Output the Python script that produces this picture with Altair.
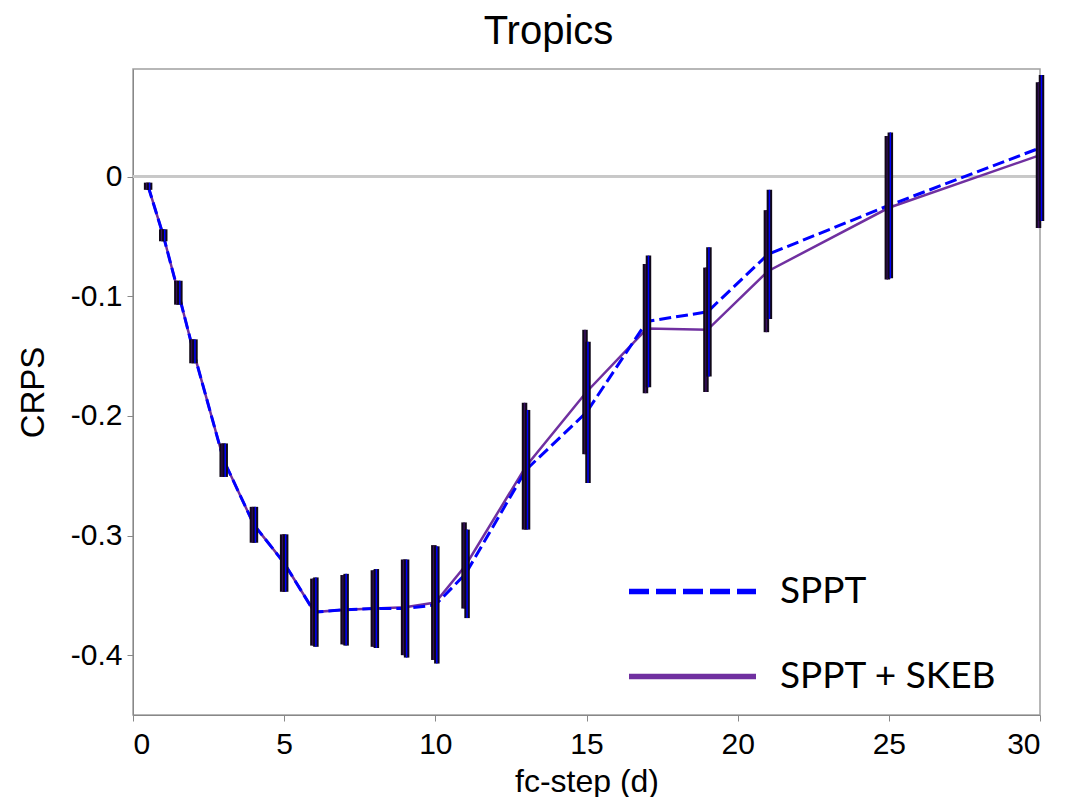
import altair as alt
import pandas as pd

# ---- data ----
steps = [0.5, 1, 1.5, 2, 3, 4, 5, 6, 7, 8, 9, 10, 11, 13, 15, 17, 19, 21, 25, 30]
sppt = [-0.008, -0.049, -0.097, -0.146, -0.237, -0.291, -0.323, -0.364, -0.362, -0.361,
        -0.361, -0.358, -0.332, -0.245, -0.197, -0.121, -0.113, -0.065, -0.024, 0.024]
skeb = [-0.008, -0.049, -0.097, -0.146, -0.237, -0.291, -0.323, -0.364, -0.362, -0.361,
        -0.360, -0.356, -0.325, -0.242, -0.180, -0.127, -0.128, -0.079, -0.026, 0.018]
sppt_err = [0.003, 0.005, 0.010, 0.010, 0.014, 0.015, 0.024, 0.029, 0.030, 0.033,
            0.041, 0.049, 0.037, 0.050, 0.059, 0.055, 0.054, 0.054, 0.061, 0.061]
skeb_err = [0.003, 0.005, 0.010, 0.010, 0.014, 0.015, 0.024, 0.028, 0.029, 0.032,
            0.040, 0.048, 0.036, 0.053, 0.052, 0.054, 0.052, 0.051, 0.060, 0.061]

series_names = ["SPPT", "SPPT + SKEB"]
line_colors = ["#0000ff", "#7030a0"]
bar_inner_colors = ["#0000ff", "#3a1060"]
x_ticks = [0, 5, 10, 15, 20, 25, 30]
y_ticks = [0, -0.1, -0.2, -0.3, -0.4]

rows = []
for s, v, e in zip(steps, sppt, sppt_err):
    rows.append({"step": s, "series": series_names[0], "crps": v, "err": e})
for s, v, e in zip(steps, skeb, skeb_err):
    rows.append({"step": s, "series": series_names[1], "crps": v, "err": e})
df = pd.DataFrame(rows)

FONT = "Liberation Sans"

x_enc = alt.X(
    "step:Q",
    scale=alt.Scale(domain=[0, 30], nice=False),
    axis=alt.Axis(values=x_ticks, title="fc-step (d)", format="d"),
)
y_enc = alt.Y(
    "crps:Q",
    scale=alt.Scale(domain=[-0.45, 0.09], nice=False, zero=False),
    axis=alt.Axis(
        values=y_ticks,
        title="CRPS",
        labelExpr="replace(format(datum.value, '.1~f'), '\u2212', '-')",
    ),
)

base = alt.Chart(df)

zero_rule = base.mark_rule(color="#c8c8c8", strokeWidth=2).encode(y=alt.datum(0))

line_sppt = (
    base.transform_filter(alt.datum.series == series_names[0])
    .mark_line(color=line_colors[0], strokeWidth=3, strokeDash=[12, 5])
    .encode(x=x_enc, y=y_enc)
)
line_skeb = (
    base.transform_filter(alt.datum.series == series_names[1])
    .mark_line(color=line_colors[1], strokeWidth=2.5)
    .encode(x=x_enc, y=y_enc)
)


def bar_layers(name, inner, offset):
    b = base.transform_filter(alt.datum.series == name).transform_calculate(
        lo="datum.crps - datum.err", hi="datum.crps + datum.err"
    )
    outer = b.mark_rule(color="#100818", strokeWidth=5.5, xOffset=offset).encode(
        x="step:Q", y="lo:Q", y2="hi:Q"
    )
    core = b.mark_rule(color=inner, strokeWidth=1.5, xOffset=offset).encode(
        x="step:Q", y="lo:Q", y2="hi:Q"
    )
    return outer + core


bars_skeb = bar_layers(series_names[1], bar_inner_colors[1], -1.5)
bars_sppt = bar_layers(series_names[0], bar_inner_colors[0], 1.5)

legend = alt.Legend(
    title=None,
    orient="none",
    legendX=493,
    legendY=456,
    symbolType="stroke",
    symbolSize=16129,
    symbolStrokeWidth=5.5,
    labelFont="Lato",
    labelFontSize=37,
    labelColor="black",
    labelOffset=21,
    labelLimit=400,
    rowPadding=-10,
    padding=0,
)
legend_carrier = (
    base.transform_filter("datum.step < 0")
    .mark_line()
    .encode(
        x=x_enc,
        y=y_enc,
        color=alt.Color(
            "series:N",
            scale=alt.Scale(domain=series_names, range=line_colors),
            legend=legend,
        ),
        strokeDash=alt.StrokeDash(
            "series:N",
            scale=alt.Scale(domain=series_names, range=[[20, 7], [1, 0]]),
            legend=legend,
        ),
    )
)

chart = (
    alt.layer(zero_rule, line_skeb, line_sppt, bars_skeb, bars_sppt, legend_carrier)
    .properties(
        width=907,
        height=646,
        title=alt.TitleParams(
            "Tropics", font=FONT, fontSize=40, fontWeight="normal", color="black",
            offset=17, dx=-38,
        ),
        padding={"left": 9, "top": 4, "right": 5, "bottom": 0},
    )
    .configure_view(stroke="#a0a0a0", strokeWidth=1.5)
    .configure_axis(
        grid=False,
        domainColor="#888888",
        tickColor="#888888",
        tickSize=6,
        labelFont=FONT,
        labelFontSize=30,
        labelColor="black",
        titleFont=FONT,
        titleFontWeight="normal",
        titleColor="black",
    )
    .configure_axisX(titleFontSize=32, labelPadding=8, titlePadding=7)
    .configure_axisY(titleFontSize=33, labelPadding=5, titlePadding=20)
)

chart.save("out.html", embed_options={"renderer": "svg", "actions": False})
